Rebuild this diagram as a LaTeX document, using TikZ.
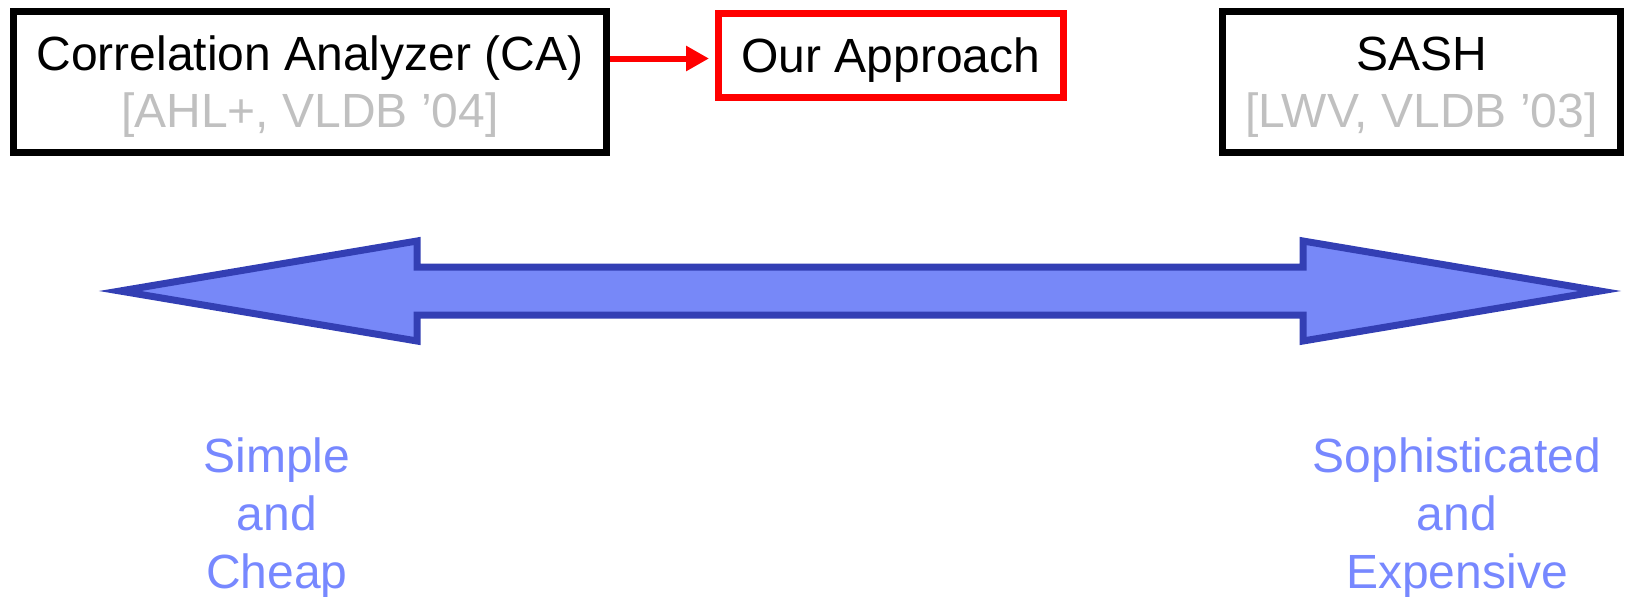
\documentclass[tikz,border=0pt]{standalone}
\usepackage{fontspec}
\setmainfont{Liberation Sans}
\usetikzlibrary{arrows.meta}
\definecolor{refgray}{RGB}{192,192,192}
\definecolor{axisfill}{RGB}{119,136,248}
\definecolor{axisline}{RGB}{51,63,180}
\definecolor{labelblue}{RGB}{119,136,255}
\newcommand{\capstrut}{\rule{0pt}{22pt}}
\begin{document}
\begin{tikzpicture}[x=0.5pt,y=-0.5pt,
    refbox/.style={draw, line width=3.5pt, align=center, inner sep=0pt,
        font=\fontsize{24}{28.5}\selectfont},
    axislabel/.style={text=labelblue, align=center, inner sep=0pt,
        font=\fontsize{24}{29}\selectfont}]
    \useasboundingbox (0,0) rectangle (1629,596);
    % methods
    \node[refbox, minimum width=296.5pt, minimum height=70.5pt] (ca) at (310,82)
        {\capstrut Correlation Analyzer (CA)\\\textcolor{refgray}{[AHL+, VLDB '04]}};
    \node[refbox, draw=red, minimum width=172.5pt, minimum height=42pt] (ours) at (891,55.5)
        {\capstrut Our Approach};
    \node[refbox, minimum width=199pt, minimum height=70.5pt] (sash) at (1421.5,82)
        {\capstrut SASH\\\textcolor{refgray}{[LWV, VLDB '03]}};
    \draw[red, line width=3pt, -{Triangle[length=11.5pt,width=12pt]}, shorten >=3pt]
        ([yshift=-1.5pt]ca.east |- ours.west) -- ([yshift=-1.5pt]ours.west);
    % the scale
    \filldraw[fill=axisfill, draw=axisline, line width=3.5pt]
        (120,291) -- (417,241) -- (417,267) -- (1303,267) -- (1303,241) -- (1600,291)
        -- (1303,341) -- (1303,315) -- (417,315) -- (417,341) -- cycle;
    \node[axislabel] (cheap) at (277,518) {Simple\\and\\Cheap};
    \node[axislabel] (costly) at (1457,518) {Sophisticated\\and\\Expensive};
\end{tikzpicture}
\end{document}
